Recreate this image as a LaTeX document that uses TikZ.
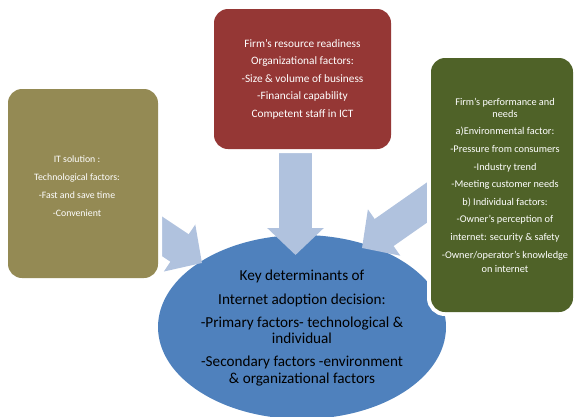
\documentclass[tikz,border=0pt]{standalone}
\usepackage{fontspec}
\setmainfont{Carlito}
\usetikzlibrary{arrows.meta,shapes.geometric}
\definecolor{olivebox}{HTML}{948A54}
\definecolor{redbox}{HTML}{953735}
\definecolor{greenbox}{HTML}{4F6228}
\definecolor{hubblue}{HTML}{4F81BD}
\definecolor{flowblue}{HTML}{B0C2DE}
\pgfdeclarelayer{back}
\pgfsetlayers{back,main}
\begin{document}
\begin{tikzpicture}[x=1pt,y=-1pt,
  factorbox/.style={rectangle, rounded corners=14pt, inner sep=0pt, outer sep=0pt,
    preaction={draw=white, line width=8pt}},
  boxtext/.style={text=white, align=center, inner sep=0pt},
  flow/.style={draw=flowblue, line width=33pt, -{Triangle[length=27pt,width=55pt]}},
]
\clip (0,0) rectangle (575,416);

% the three factor groups
\node[factorbox, fill=olivebox, minimum width=150pt, minimum height=189pt] (itbox) at (83,183.5) {};
\node[factorbox, fill=redbox, minimum width=177pt, minimum height=140pt] (rbox) at (302.5,79) {};
\node[factorbox, fill=greenbox, minimum width=142pt, minimum height=254pt] (gbox) at (502,185) {};

\node[boxtext, font=\fontsize{9.8}{18}\selectfont] (ittext) at (77,186.5)
  {IT solution :\\Technological factors:\\-Fast and save time\\-Convenient};
\node[boxtext, font=\fontsize{11.3}{17.5}\selectfont] (rtext) at (302.5,79)
  {Firm’s resource readiness\\Organizational factors:\\-Size \& volume of business\\-Financial capability\\Competent staff in ICT};
\node[boxtext, font=\fontsize{10.3}{17.6}\selectfont] (gtext) at (505,185.5)
  {Firm’s performance and\\[-6pt]needs\\a)Environmental factor:\\-Pressure from consumers\\-Industry trend\\-Meeting customer needs\\b) Individual factors:\\-Owner’s perception of\\internet: security \& safety\\-Owner/operator’s knowledge\\[-3pt]on internet};

% central decision and the arrows feeding it
\begin{pgfonlayer}{back}
  \node[ellipse, fill=hubblue, minimum width=288pt, minimum height=184pt, inner sep=0pt] (hub) at (302,327) {};
  \coordinate (ltip) at (202,263);
  \coordinate (ttip) at (295.5,255);
  \coordinate (rtip) at (362,248);
  \draw[flow] (itbox.center) -- (ltip);
  \draw[flow] ([xshift=-7pt]rbox.center) -- (ttip);
  \draw[flow] ([yshift=35pt]gbox.center) -- (rtip);
\end{pgfonlayer}

\node[align=center, inner sep=0pt, text=black, font=\fontsize{15.2}{23.3}\selectfont] (hubtext) at (302,328)
  {Key determinants of\\Internet adoption decision:\\-Primary factors- technological \&\\[-7pt]individual\\-Secondary factors -environment\\[-7pt]\& organizational factors};
\end{tikzpicture}
\end{document}
